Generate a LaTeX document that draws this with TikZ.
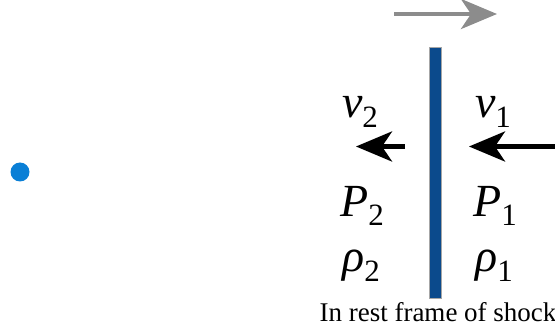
\documentclass[tikz,border=0pt]{standalone}
\usepackage{fontspec}
\setmainfont{Liberation Serif}
\usetikzlibrary{arrows.meta}
\definecolor{barblue}{HTML}{0B4A8C}
\definecolor{dotblue}{HTML}{0A7FD6}
\definecolor{arrgray}{HTML}{8C8C8C}
\newcommand{\qlab}[2]{{\itshape #1}\raisebox{-0.2em}{\fontsize{31}{31}\selectfont #2}}
\tikzset{
  qty/.style={font=\fontsize{46}{46}\selectfont, inner sep=0pt},
  flow/.style={line width=4.5pt, -{Stealth[length=36pt,width=30pt,inset=10pt]}},
}
\begin{document}
\begin{tikzpicture}[x=1pt,y=-1pt]
\useasboundingbox (0,0) rectangle (555,331);
% shock bar
\node[draw=gray!70, line width=0.6pt, fill=barblue, minimum width=12pt, minimum height=251pt, inner sep=0pt] (bar) at (435,172.5) {};
% dot
\node[circle, fill=dotblue, minimum size=19pt, inner sep=0pt] (dot) at (20,172) {};
% gray arrow
\coordinate (g1) at (394,14);
\coordinate (g2) at (497,14);
\draw[flow, arrgray] (g1) -- (g2);
% velocity arrows
\coordinate (l1) at (405,146.5);
\coordinate (l2) at (356,146.5);
\draw[flow] (l1) -- (l2);
\coordinate (r1) at (556,146.5);
\coordinate (r2) at (469,146.5);
\draw[flow] (r1) -- (r2);
% labels
\node[qty] (v2) at (360,112) {\qlab{v}{2}};
\node[qty] (v1) at (493,112) {\qlab{v}{1}};
\node[qty] (P2) at (362,206) {\qlab{P}{2}};
\node[qty] (P1) at (495,206) {\qlab{P}{1}};
\node[qty] (r2l) at (361,266) {\qlab{ρ}{2}};
\node[qty] (r1l) at (494,266) {\qlab{ρ}{1}};
\node[font=\fontsize{27}{27}\selectfont, inner sep=0pt] (cap) at (438,312) {In rest frame of shock};
\end{tikzpicture}
\end{document}
